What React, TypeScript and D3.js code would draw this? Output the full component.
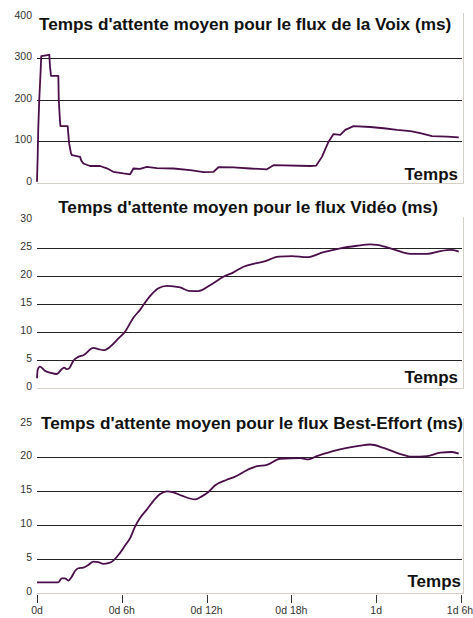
import React from "react";
import * as d3 from "d3";

// time in hours, values in ms
const voixTime = [0, 0.05, 0.09, 0.16, 0.26, 0.3, 0.87, 0.92, 0.99, 1.51, 1.54, 1.63, 1.66, 2.17, 2.27, 2.41, 2.48, 3.05, 3.12, 3.28, 3.75, 4.46, 4.94, 5.4, 6.11, 6.59, 6.82, 7.29, 7.77, 8.48, 9.65, 10.84, 11.78, 12.49, 12.84, 13.9, 15.08, 16.27, 16.73, 19.33, 19.76, 20.16, 20.63, 20.98, 21.46, 21.81, 22.4, 23.58, 24.53, 25.47, 26.42, 27.12, 27.95, 29.02, 29.84];
const voixValues = [2, 66, 131, 200, 271, 305, 308, 280, 257, 257, 199, 147, 136, 136, 95, 70, 66, 62, 54, 46, 40, 40, 34.5, 26, 22, 20, 34, 33, 38, 35, 34, 30, 25, 26, 37, 36.5, 34, 32, 42, 40, 41, 62, 98.5, 117, 115, 127, 136, 134, 131, 127, 124, 119, 112, 111, 109];

const videoTime = [0, 0.05, 0.21, 0.57, 0.92, 1.4, 1.75, 1.93, 2.1, 2.29, 2.57, 2.92, 3.28, 3.99, 4.34, 4.7, 5.17, 5.76, 6.23, 6.82, 7.29, 7.88, 8.59, 9.19, 10.13, 10.72, 11.42, 12.25, 13.19, 13.9, 14.61, 15.44, 16.03, 17.09, 18.04, 19.1, 20.28, 21.46, 22.64, 23.58, 24.06, 25.23, 26.42, 27.6, 28.54, 29.37, 29.84];
const videoValues = [1.7, 3.2, 3.75, 3.0, 2.7, 2.45, 3.3, 3.6, 3.3, 3.5, 4.8, 5.5, 5.8, 7.1, 6.9, 6.7, 7.3, 8.8, 10.0, 12.5, 13.9, 16.0, 17.75, 18.2, 17.9, 17.3, 17.25, 18.3, 19.8, 20.6, 21.6, 22.2, 22.5, 23.4, 23.5, 23.3, 24.2, 24.9, 25.35, 25.6, 25.5, 24.7, 23.9, 23.9, 24.4, 24.6, 24.3];

const beTime = [0, 1.51, 1.75, 1.98, 2.22, 2.46, 2.69, 2.92, 3.28, 3.63, 3.99, 4.34, 4.7, 5.05, 5.4, 5.76, 6.23, 6.59, 6.94, 7.29, 7.77, 8.24, 8.71, 9.19, 9.65, 10.25, 11.19, 11.66, 12.13, 12.61, 13.43, 13.9, 14.38, 14.61, 15.56, 16.27, 17.21, 18.63, 19.21, 19.8, 20.75, 21.93, 22.88, 23.58, 24.53, 25.71, 26.54, 27.6, 28.54, 29.37, 29.84];
const beValues = [1.58, 1.58, 2.17, 2.17, 1.82, 2.4, 3.25, 3.65, 3.75, 4.14, 4.63, 4.54, 4.29, 4.39, 4.78, 5.6, 7.0, 8.1, 9.8, 11.05, 12.3, 13.6, 14.6, 15.0, 14.85, 14.35, 13.8, 14.25, 14.9, 15.9, 16.7, 17.05, 17.55, 17.85, 18.7, 18.9, 19.8, 19.9, 19.7, 20.2, 20.8, 21.4, 21.75, 21.9, 21.4, 20.5, 20.1, 20.2, 20.7, 20.8, 20.55];

const xTickHours = [0, 6, 12, 18, 24, 30];
const xTickLabels = ["0d", "0d 6h", "0d 12h", "0d 18h", "1d", "1d 6h"];

const titles = [
  "Temps d'attente moyen pour le flux de la Voix (ms)",
  "Temps d'attente moyen pour le flux Vidéo (ms)",
  "Temps d'attente moyen pour le flux Best-Effort (ms)",
];
const yTicksVoix = [0, 100, 200, 300, 400];
const yTicksVideo = [0, 5, 10, 15, 20, 25, 30];
const yTicksBE = [0, 5, 10, 15, 20, 25];

const LEFT = 37;
const RIGHT = 462;
const LINE = "#4a0f4a";
const FONT = "'Liberation Sans', Arial, sans-serif";

type Panel = {
  title: string;
  time: number[];
  values: number[];
  ticks: number[];
  yTop: number;
  yBottom: number;
  titleX: number;
  titleY: number;
  titleAnchor: "start" | "middle";
  tempsY: number;
  tempsX: number;
  borderTop: number;
  curve: d3.CurveFactory;
};

const panels: Panel[] = [
  {
    title: titles[0], time: voixTime, values: voixValues, ticks: yTicksVoix,
    yTop: 16.6, yBottom: 182.6, titleX: 39, titleY: 30, titleAnchor: "start",
    tempsX: 458, tempsY: 180, borderTop: 13, curve: d3.curveLinear,
  },
  {
    title: titles[1], time: videoTime, values: videoValues, ticks: yTicksVideo,
    yTop: 219.7, yBottom: 387.7, titleX: 248, titleY: 213, titleAnchor: "middle",
    tempsX: 458, tempsY: 383, borderTop: 217, curve: d3.curveMonotoneX,
  },
  {
    title: titles[2], time: beTime, values: beValues, ticks: yTicksBE,
    yTop: 423.5, yBottom: 593, titleX: 41, titleY: 429, titleAnchor: "start",
    tempsX: 461, tempsY: 587, borderTop: 418, curve: d3.curveMonotoneX,
  },
];

const x = d3.scaleLinear().domain([0, 30]).range([LEFT, 461]);

function ChartPanel({ p, showX }: { p: Panel; showX: boolean }) {
  const maxV = p.ticks[p.ticks.length - 1];
  const y = d3.scaleLinear().domain([0, maxV]).range([p.yBottom, p.yTop]);
  const pts: [number, number][] = p.time.map((t, i) => [t, p.values[i]]);
  const line = d3
    .line<[number, number]>()
    .x((d) => x(d[0]))
    .y((d) => y(d[1]))
    .curve(p.curve);
  return (
    <g>
      {p.ticks.slice(1, -1).map((t) => (
        <line key={"g" + t} x1={LEFT} x2={RIGHT} y1={Math.round(y(t)) + 0.5} y2={Math.round(y(t)) + 0.5} stroke="#222" strokeWidth={1} />
      ))}
      <line x1={LEFT} x2={RIGHT + 1} y1={Math.round(p.yBottom) + 0.5} y2={Math.round(p.yBottom) + 0.5} stroke="#d4d0c8" strokeWidth={1} />
      <line x1={RIGHT + 1.5} x2={RIGHT + 1.5} y1={p.borderTop} y2={Math.round(p.yBottom) + 1} stroke="#d4d0c8" strokeWidth={1} />
      {p.ticks.map((t) => (
        <text key={"t" + t} x={32} y={y(t) + 2} textAnchor="end" fontSize={10.5} fill="#333" fontFamily={FONT}>
          {t}
        </text>
      ))}
      <path d={line(pts) || ""} fill="none" stroke={LINE} strokeWidth={1.8} strokeLinejoin="round" />
      <text x={p.titleX} y={p.titleY} textAnchor={p.titleAnchor} fontSize={17.2} fontWeight="bold" fill="#111" fontFamily={FONT}>
        {p.title}
      </text>
      <text x={p.tempsX} y={p.tempsY} textAnchor="end" fontSize={17} fontWeight="bold" fill="#111" fontFamily={FONT}>
        Temps
      </text>
      {showX &&
        xTickHours.map((h, i) => (
          <g key={"x" + h}>
            <line x1={Math.round(x(h)) + 0.5} x2={Math.round(x(h)) + 0.5} y1={p.yBottom + 2} y2={p.yBottom + 10} stroke="#333" />
            <text x={i === xTickHours.length - 1 ? x(h) - 1 : x(h)} y={614} textAnchor="middle" fontSize={10.5} fill="#333" fontFamily={FONT}>
              {xTickLabels[i]}
            </text>
          </g>
        ))}
    </g>
  );
}

export default function App() {
  return (
    <svg width={473} height={618} style={{ position: "absolute", left: 0, top: 0, background: "#fff" }}>
      <rect width={473} height={618} fill="#fff" />
      {panels.map((p, i) => (
        <ChartPanel key={i} p={p} showX={i === 2} />
      ))}
    </svg>
  );
}
